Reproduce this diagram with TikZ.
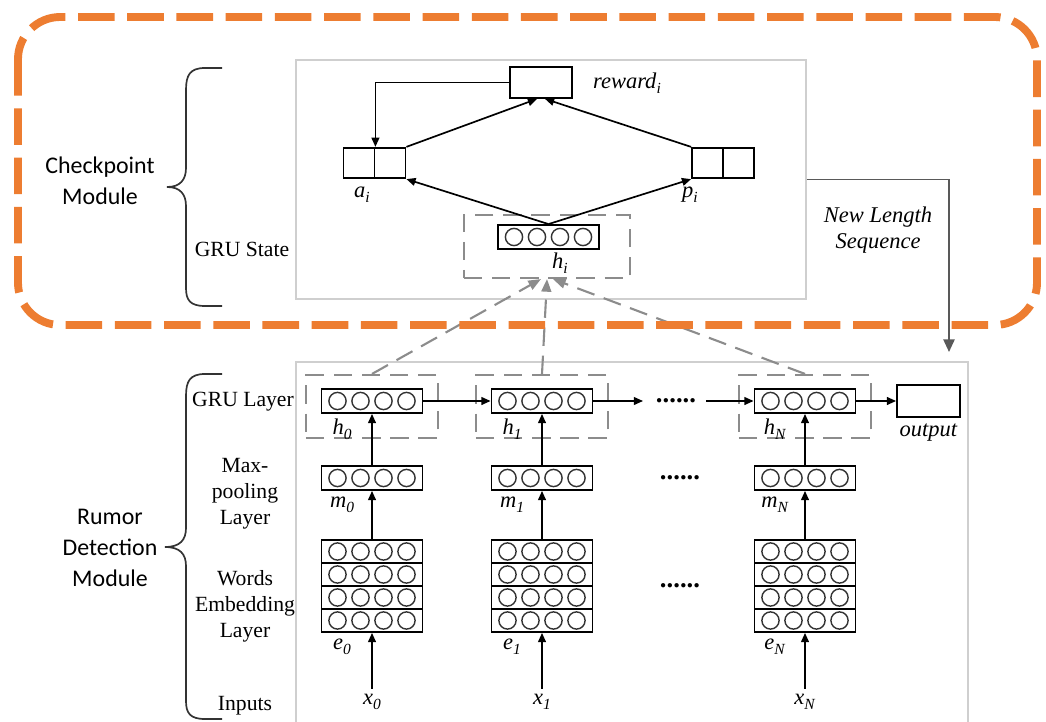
\documentclass[tikz,border=0pt]{standalone}
\usepackage{fontspec}
\setmainfont{Liberation Serif}
\newfontfamily\cbfont{Carlito}
\usetikzlibrary{arrows.meta,positioning}
\definecolor{ckorange}{HTML}{ED7D31}
\definecolor{dashgray}{HTML}{8C8C8C}
\definecolor{panelgray}{HTML}{CFCFCF}
\newcommand{\idx}[2]{\textit{#1}\raisebox{-0.45ex}{\fontsize{11}{12}\selectfont\textit{#2}}}

\begin{document}
\begin{tikzpicture}[x=0.025cm, y=-0.025cm, >={Triangle[length=6.5pt,width=5.5pt]},
    vec/.style={draw, line width=1.3pt, fill=white, minimum width=2.525cm, minimum height=0.6cm, inner sep=0pt,
      path picture={\foreach \k in {-1.5,-0.5,0.5,1.5}
        \draw[line width=1pt, black!80] ([xshift=\k*0.575cm]path picture bounding box.center) circle (0.215cm);}},
    cell/.style={draw, line width=1.3pt, minimum width=0.775cm, minimum height=0.76cm, inner sep=0pt},
    gbox/.style={draw=dashgray, line width=1.5pt, dash pattern=on 13pt off 7pt, minimum width=3.3cm, minimum height=1.575cm, inner sep=0pt},
    sym/.style={font=\fontsize{16}{19}\selectfont, inner sep=1pt},
    tag/.style={font=\fontsize{15.4}{18.4}\selectfont, align=center, inner sep=1pt},
    side/.style={font=\cbfont\fontsize{17}{22}\selectfont, align=center},
    dots/.style={font=\fontsize{19}{20}\selectfont\bfseries, inner sep=1pt},
    link/.style={->, line width=1.2pt},
    feed/.style={-{Triangle[length=9pt,width=7pt]}, draw=dashgray, line width=1.5pt, dash pattern=on 13pt off 7pt}]

  \useasboundingbox (0,0) rectangle (1046,722);

  % panels
  \node[draw=panelgray, line width=1.2pt, minimum width=12.75cm, minimum height=5.975cm] (ck) at (551,179.5) {};
  \node[draw=panelgray, line width=1.2pt, minimum width=16.8cm, minimum height=9.45cm] (rd) at (632,551) {};

  % checkpoint module
  \node[vec] (hi) at (548.5,237) {};
  \node[gbox, minimum width=4.15cm] (gi) at (547,246.5) {};
  \node[sym] (hil) at (560,263) {\idx{h}{i}};
  \node[cell] (a1) at (359,163) {};
  \node[cell] (a2) at (390,163) {};
  \node[cell] (p1) at (707.5,163) {};
  \node[cell] (p2) at (738.5,163) {};
  \node[sym] (al) at (362,195) {\idx{a}{i}};
  \node[sym] (pl) at (690,195) {\idx{p}{i}};
  \node[cell, minimum width=1.55cm, minimum height=0.775cm] (rw) at (541,82.5) {};
  \node[sym] (rwl) at (627,83) {\idx{reward}{i}};

  \draw[link] (rw.west) -| (a1.north east);
  \draw[link] (a2.north east) -- ([xshift=-0.1cm]rw.south);
  \draw[link] (p1.north west) -- ([xshift=0.1cm]rw.south);
  \draw[link] (hi.north) -- (a2.south east);
  \draw[link] (hi.north) -- (p1.south west);

  % rumor detection module
  \foreach \c/\cx in {0/372,1/542,N/805}{
    \node[gbox] (g\c) at (\cx,406.5) {};
    \node[vec] (h\c) at (\cx,401) {};
    \node[vec] (m\c) at (\cx,478) {};
    \foreach \r/\ry in {1/551.5,2/574.5,3/597.5,4/620.5}
      \node[vec, minimum height=0.575cm] (e\c\r) at (\cx,\ry) {};
    \node[sym] (hl\c) at (\cx-30,429) {\idx{h}{\c}};
    \node[sym] (ml\c) at (\cx-30,505) {\idx{m}{\c}};
    \node[sym] (el\c) at (\cx-30,647) {\idx{e}{\c}};
    \node[sym, inner sep=4pt] (x\c) at (\cx,702) {\idx{x}{\c}};
    \draw[link] (x\c) -- (e\c4);
    \draw[link] (e\c1) -- (m\c);
    \draw[link] (m\c) -- (h\c);
  }
  \node[dots] (dh) at (676,401) {......};
  \node[dots] (dm) at (680,478) {......};
  \node[dots] (de) at (680,586) {......};
  \node[cell, minimum width=1.575cm, minimum height=0.8cm] (out) at (928.5,401) {};
  \node[sym, below=3pt of out] (outl) {\textit{output}};

  \draw[link] (h0) -- (h1);
  \draw[link, shorten >=8pt] (h1) -- (dh);
  \draw[link, shorten <=6pt] (dh) -- (hN);
  \draw[link] (hN) -- (out);

  \draw[feed] (g0.north) -- ([xshift=-0.15cm]gi.south);
  \draw[feed] (g1.north) -- (gi.south);
  \draw[feed] (gN.north) -- ([xshift=0.15cm]gi.south);

  \coordinate (nlend) at (949,352);
  \draw[-{Triangle[length=9pt,width=8pt]}, black!65, line width=1.3pt] (ck.east) -| (nlend);
  \node[sym, align=center, font=\fontsize{16}{18.4}\selectfont\itshape] (nl) at (878,230) {New Length\\Sequence};

  % braces and side labels
  \draw[line width=1.2pt, black!80] (222,68) -- (205,68) .. controls (190,68) and (186,75) .. (186,90) -- (186,168)
    .. controls (186,180) and (180,187) .. (167,187) .. controls (180,187) and (186,194) .. (186,206) -- (186,288)
    .. controls (186,300) and (190,306) .. (205,306) -- (222,306);
  \draw[line width=1.2pt, black!80] (222,374) -- (205,374) .. controls (190,374) and (186,381) .. (186,396) -- (186,528)
    .. controls (186,540) and (180,547) .. (165,547) .. controls (180,547) and (186,554) .. (186,566) -- (186,701)
    .. controls (186,713) and (190,719) .. (205,719) -- (222,719);
  \node[side] (ckl) at (100,181) {Checkpoint\\Module};
  \node[side] (rdl) at (110,548) {Rumor\\Detection\\Module};
  \node[tag] (gs) at (242,249) {GRU State};
  \node[tag] (gl) at (243,402) {GRU Layer};
  \node[tag] (mp) at (245,494) {Max-\\pooling\\Layer};
  \node[tag] (we) at (245,606) {Words\\Embedding\\Layer};
  \node[tag] (inp) at (245,706) {Inputs};

  % orange frame
  \draw[ckorange, line width=5.6pt, dash pattern=on 26pt off 9pt, rounded corners=30pt] (18,17) rectangle (1037,325);
\end{tikzpicture}
\end{document}
